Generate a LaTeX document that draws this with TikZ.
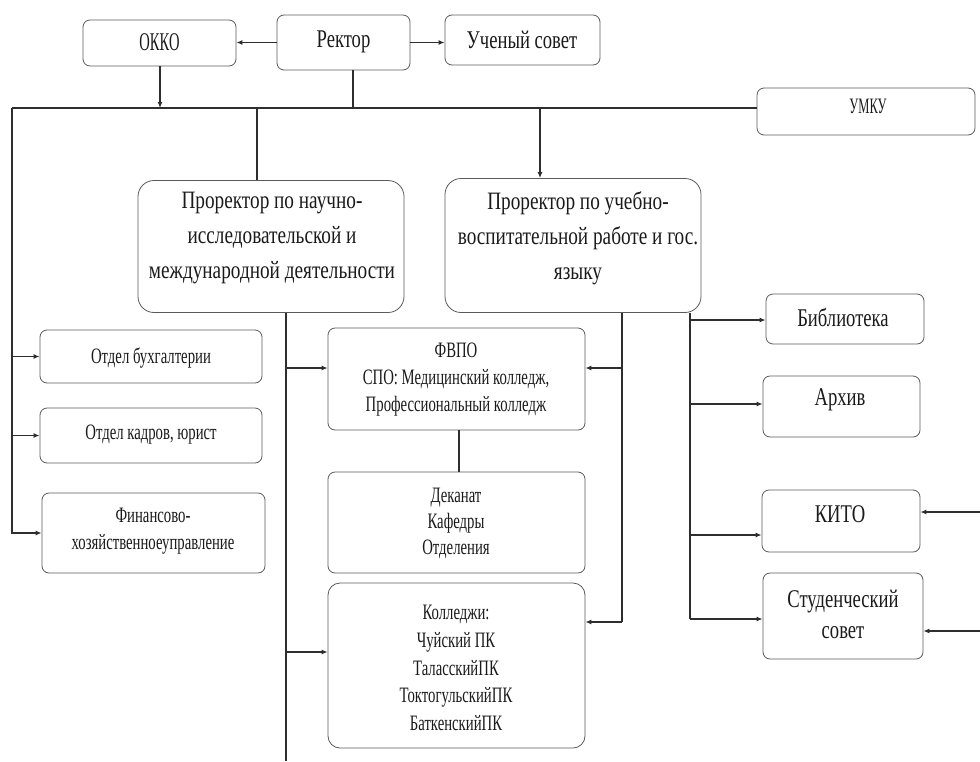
\documentclass[tikz,border=0pt]{standalone}
\usepackage{fontspec}
\setmainfont{Liberation Serif}
\newfontfamily\fbig[FakeStretch=0.73]{Liberation Serif}
\newfontfamily\fmid[FakeStretch=0.77]{Liberation Serif}
\newfontfamily\fsml[FakeStretch=0.67]{Liberation Serif}
\newfontfamily\fokko[FakeStretch=0.57]{Liberation Serif}
\usetikzlibrary{arrows.meta,calc}
\definecolor{boxc}{HTML}{5A5A5A}
\definecolor{linec}{HTML}{2E2E2E}
\definecolor{txtc}{HTML}{1A1A1A}
\begin{document}
\begin{tikzpicture}[x=1pt,y=-1pt,
  box/.style={draw=boxc, line width=0.8pt, rounded corners=7pt, inner sep=0pt},
  bigbox/.style={box, rounded corners=16pt},
  lbl/.style={inner sep=0pt, align=center, text=txtc},
  tbig/.style={lbl, font=\fbig\fontsize{25.5}{31}\selectfont},
  tmid/.style={lbl, font=\fmid\fontsize{25}{35}\selectfont},
  tsml/.style={lbl, font=\fsml\fontsize{22}{27}\selectfont},
  conn/.style={draw=linec, line width=1.3pt},
  arr/.style={conn, -{Latex[length=6pt,width=5pt]}},
]
\useasboundingbox (0,0) rectangle (980,761);

% boxes
\node[box, minimum width=153pt, minimum height=46pt] (okko) at (159.5,43) {};
\node[box, minimum width=133pt, minimum height=55pt] (rector) at (343.5,42.5) {};
\node[box, minimum width=155pt, minimum height=50pt] (sovet) at (522.5,40) {};
\node[box, minimum width=218pt, minimum height=47pt] (umku) at (866,111.5) {};
\node[bigbox, minimum width=266pt, minimum height=132pt] (prni) at (271,246.5) {};
\node[bigbox, minimum width=256pt, minimum height=134pt] (pruv) at (573,245.5) {};
\node[box, minimum width=222pt, minimum height=53pt] (buh) at (151,356.5) {};
\node[box, minimum width=222pt, minimum height=55pt] (kadr) at (151,435.5) {};
\node[box, minimum width=223pt, minimum height=80pt] (fin) at (153.5,533) {};
\node[box, minimum width=257pt, minimum height=102pt] (fvpo) at (456.5,379) {};
\node[box, minimum width=257pt, minimum height=101pt] (dek) at (456.5,522.5) {};
\node[box, rounded corners=12pt, minimum width=257pt, minimum height=165pt] (koll) at (456.5,665.5) {};
\node[box, minimum width=158pt, minimum height=50pt] (bib) at (845,319) {};
\node[box, minimum width=157pt, minimum height=61pt] (arh) at (841.5,406.5) {};
\node[box, minimum width=158pt, minimum height=62pt] (kito) at (841,521) {};
\node[box, minimum width=160pt, minimum height=86pt] (stud) at (843,616) {};

% labels
\node[lbl, font=\fokko\fontsize{25.5}{31}\selectfont] (okko-t) at (159.5,42) {ОККО};
\node[tbig] (rector-t) at (343.5,42) {Ректор};
\node[tbig] (sovet-t) at (522,40) {Ученый совет};
\node[lbl, font=\fokko\fontsize{22}{27}\selectfont] (umku-t) at (868,106) {УМКУ};
\node[tmid] (prni-t) at (272,238) {Проректор по научно-\\исследовательской и\\международной деятельности};
\node[tmid] (pruv-t) at (578,238) {Проректор по учебно-\\воспитательной работе и гос.\\языку};
\node[tsml] (buh-t) at (151,358) {Отдел бухгалтерии};
\node[tsml] (kadr-t) at (151,435) {Отдел кадров, юрист};
\node[tsml] (fin-t) at (153,531) {Финансово-\\хозяйственноеуправление};
\node[tsml] (fvpo-t) at (456,380) {ФВПО\\СПО: Медицинский колледж,\\Профессиональный колледж};
\node[tsml, font=\fsml\fontsize{22}{26}\selectfont] (dek-t) at (456,523) {Деканат\\Кафедры\\Отделения};
\node[tsml, font=\fsml\fontsize{22}{27.7}\selectfont] (koll-t) at (456,668) {Колледжи:\\Чуйский ПК\\ТаласскийПК\\ТоктогульскийПК\\БаткенскийПК};
\node[tbig] (bib-t) at (843,317) {Библиотека};
\node[tbig] (arh-t) at (840,400) {Архив};
\node[tbig] (kito-t) at (840,514) {КИТО};
\node[tbig] (stud-t) at (843,614) {Студенческий\\совет};

% helper coordinates
\coordinate (busL) at (12,108);
\coordinate (lineA) at (286,761);
\coordinate (rightK) at (980,512);
\coordinate (rightS) at (980,631);
\coordinate (okkoBus) at (160,108);
\coordinate (rectBus) at (353,108);
\coordinate (niBus) at (257,108);
\coordinate (uvBus) at (540,108);
\coordinate (uvA) at (622,622);
\coordinate (uvB) at (690,619);

% top connectors
\draw[arr, line width=1.8pt] (rector.west) -- (rector.west -| okko.east);
\draw[arr] (rector.east) -- (rector.east -| sovet.west);
\draw[arr] (okkoBus |- okko.south) -- (okkoBus);
\draw[conn] (rectBus |- rector.south) -- (rectBus);
\draw[conn] (busL) -- (busL -| umku.west);
\draw[conn] (niBus) -- (niBus |- prni.north);
\draw[arr] (uvBus) -- (uvBus |- pruv.north);

% left column
\draw[arr] (busL) |- (fin.west);
\draw[arr] (buh.west -| busL) -- (buh.west);
\draw[arr] (kadr.west -| busL) -- (kadr.west);

% line from prorector NI
\draw[conn] (prni.south -| lineA) -- (lineA);
\draw[arr] ($(lineA |- fvpo.west)+(0,-11)$) -- ($(fvpo.west)+(0,-11)$);
\draw[arr] ($(lineA |- koll.west)+(0,-13.5)$) -- ($(koll.west)+(0,-13.5)$);

% line from prorector UV (622)
\draw[conn] (pruv.south -| uvA) -- (uvA);
\draw[arr] ($(fvpo.east -| uvA)+(0,-11)$) -- ($(fvpo.east)+(0,-11)$);
\draw[arr] (uvA) -- (uvA -| koll.east);

% fvpo to dekanat
\draw[conn] ($(fvpo.south)+(2.5,0)$) -- ($(dek.north)+(2.5,0)$);

% right column (690)
\draw[conn] (pruv.south -| uvB) -- (uvB);
\draw[arr, line width=1.8pt] ($(bib.west -| uvB)+(0,1)$) -- ($(bib.west)+(0,1)$);
\draw[arr, line width=1.8pt] ($(arh.west -| uvB)+(0,-2.5)$) -- ($(arh.west)+(0,-2.5)$);
\draw[arr] ($(kito.west -| uvB)+(0,14)$) -- ($(kito.west)+(0,14)$);
\draw[arr, line width=1.8pt] (uvB) -- (uvB -| stud.west);

% arrows from right edge
\draw[arr, line width=1.8pt] (rightK) -- (rightK -| kito.east);
\draw[arr, line width=1.8pt] (rightS) -- (rightS -| stud.east);
\end{tikzpicture}
\end{document}
